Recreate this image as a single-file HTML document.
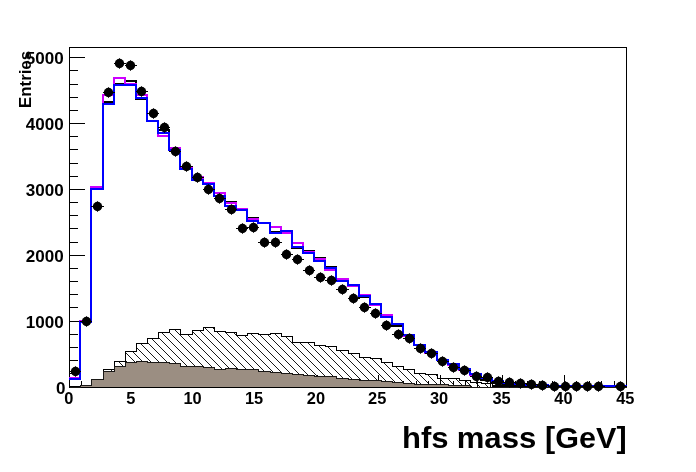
<!DOCTYPE html>
<html><head><meta charset="utf-8"><title>hfs mass</title>
<style>
html,body{margin:0;padding:0;background:#fff;}
body{width:696px;height:472px;overflow:hidden;}
svg{display:block;will-change:transform;}
text{font-family:"Liberation Sans",sans-serif;font-weight:bold;fill:#000;}
.ax{stroke:#000;stroke-width:1;fill:none;}
</style></head><body>
<svg width="696" height="472" viewBox="0 0 696 472">
<defs>
<pattern id="hatch" width="8" height="8" patternUnits="userSpaceOnUse" x="5" y="0">
<path d="M-1 -1L9 9M-1 7L1 9M7 -1L9 1" stroke="#000" stroke-width="0.9" fill="none" shape-rendering="crispEdges"/>
</pattern>
</defs>
<rect width="696" height="472" fill="#fff"/>
<g shape-rendering="crispEdges">

<path class="ax" d="M69.5 47.5H626.5V387.5H69.5Z"/>
<path class="ax" d="M70 386.5h15M70 373.5h8M70 360.5h8M70 347.5h8M70 334.5h8M70 321.5h15M70 307.5h8M70 294.5h8M70 281.5h8M70 268.5h8M70 255.5h15M70 242.5h8M70 228.5h8M70 215.5h8M70 202.5h8M70 189.5h15M70 176.5h8M70 163.5h8M70 149.5h8M70 136.5h8M70 123.5h15M70 110.5h8M70 97.5h8M70 84.5h8M70 70.5h8M70 57.5h15"/>
<path class="ax" d="M69.5 387v-12M81.5 387v-6M94.5 387v-6M106.5 387v-6M119.5 387v-6M131.5 387v-12M143.5 387v-6M156.5 387v-6M168.5 387v-6M180.5 387v-6M193.5 387v-12M205.5 387v-6M218.5 387v-6M230.5 387v-6M242.5 387v-6M255.5 387v-12M267.5 387v-6M279.5 387v-6M292.5 387v-6M304.5 387v-6M317.5 387v-12M329.5 387v-6M341.5 387v-6M354.5 387v-6M366.5 387v-6M378.5 387v-12M391.5 387v-6M403.5 387v-6M416.5 387v-6M428.5 387v-6M440.5 387v-12M453.5 387v-6M465.5 387v-6M477.5 387v-6M490.5 387v-6M502.5 387v-12M515.5 387v-6M527.5 387v-6M539.5 387v-6M552.5 387v-6M564.5 387v-12M576.5 387v-6M589.5 387v-6M601.5 387v-6M614.5 387v-6M626.5 387v-12"/>
<path d="M69.5 387.5V387.5H80.5V385.5H91.5V379.5H103.5V369.5H114.5V361.5H125.5V351.5H136.5V343.5H147.5V338.5H158.5V332.5H169.5V329.5H180.5V334.5H192.5V330.5H203.5V327.5H214.5V331.5H225.5V332.5H236.5V335.5H247.5V333.5H258.5V334.5H270.5V333.5H281.5V336.5H292.5V342.5H303.5V342.5H314.5V345.5H325.5V346.5H336.5V350.5H348.5V353.5H359.5V357.5H370.5V358.5H381.5V362.5H392.5V366.5H403.5V369.5H414.5V373.5H425.5V374.5H437.5V378.5H448.5V378.5H459.5V380.5H470.5V382.5H481.5V383.5H492.5V385.5H503.5V385.5H515.5V386.5H526.5V386.5H537.5V386.5H548.5V386.5H559.5V387.5H570.5V387.5H581.5V387.5H592.5V387.5H604.5V387.5H615.5V387.5H626.5V387.5Z" fill="url(#hatch)" stroke="#000" stroke-width="1"/>
<path d="M69.5 387V387H80.5V385.5H91.5V379.5H103.5V371.5H114.5V366.5H125.5V362.5H136.5V361.5H147.5V362.5H158.5V362.5H169.5V363.5H180.5V366.5H192.5V366.5H203.5V367.5H214.5V369.5H225.5V368.5H236.5V369.5H247.5V369.5H258.5V371.5H270.5V372.5H281.5V373.5H292.5V374.5H303.5V375.5H314.5V376.5H325.5V376.5H336.5V378.5H348.5V379.5H359.5V380.5H370.5V380.5H381.5V381.5H392.5V382.5H403.5V383.5H414.5V384.5H425.5V384.5H437.5V384.5H448.5V385.5H459.5V385.5H470.5V387H481.5V387H492.5V387H503.5V387H515.5V387H526.5V387H537.5V387H548.5V387H559.5V387H570.5V387H581.5V387H592.5V387H604.5V387H615.5V387H626.5V387Z" fill="#9b8e82" stroke="none"/>
<path d="M69.5 387.5V387.5H80.5V385.5H91.5V379.5H103.5V371.5H114.5V366.5H125.5V362.5H136.5V361.5H147.5V362.5H158.5V362.5H169.5V363.5H180.5V366.5H192.5V366.5H203.5V367.5H214.5V369.5H225.5V368.5H236.5V369.5H247.5V369.5H258.5V371.5H270.5V372.5H281.5V373.5H292.5V374.5H303.5V375.5H314.5V376.5H325.5V376.5H336.5V378.5H348.5V379.5H359.5V380.5H370.5V380.5H381.5V381.5H392.5V382.5H403.5V383.5H414.5V384.5H425.5V384.5H437.5V384.5H448.5V385.5H459.5V385.5H470.5V387.5H481.5V387.5H492.5V387.5H503.5V387.5H515.5V387.5H526.5V387.5H537.5V387.5H548.5V387.5H559.5V387.5H570.5V387.5H581.5V387.5H592.5V387.5H604.5V387.5H615.5V387.5H626.5V387.5" fill="none" stroke="#1a1816" stroke-width="1"/>
<path class="ax" d="M492 386.5H566"/>
<path d="M70 379H80V322H91V189H103V102H114V84H125V81H136V99H147V121H158V130H169V150H180V169H192V180H203V184H214V196H225V202H236V210H247V218H258V223H270V232H281V231H292V248H303V251H314V258H325V267H336V281H348V285H359V297H370V304H381V317H392V326H403V335H414V345H425V352H437V360H448V364H459V369H470V374H481V380H492V383H503V385H515V386H526V386H537V386H548V386H559V386H570V386H581V386H592V386H604V386H615V386H626V386" fill="none" stroke="#000" stroke-width="2" stroke-linejoin="miter" stroke-linecap="square"/>
<path d="M70 378H80V321H91V187H103V95H114V78H125V84H136V95H147V121H158V136H169V148H180V168H192V177H203V183H214V193H225V203H236V209H247V219H258V223H270V227H281V233H292V243H303V252H314V259H325V270H336V279H348V286H359V295H370V305H381V315H392V324H403V336H414V345H425V353H437V360H448V365H459V370H470V375H481V378H492V381H503V383H515V384H526V385H537V385H548V386H559V386H570V386H581V386H592V386H604V386H615V386H626V386" fill="none" stroke="#cc00ff" stroke-width="2" stroke-linejoin="miter" stroke-linecap="square"/>
<path d="M70 379H80V322H91V189H103V104H114V85H125V85H136V98H147V121H158V133H169V150H180V169H192V180H203V184H214V196H225V206H236V210H247V221H258V223H270V233H281V231H292V247H303V253H314V261H325V268H336V281H348V285H359V296H370V304H381V317H392V324H403V335H414V345H425V352H437V360H448V364H459V369H470V374H481V378H492V381H503V383H515V384H526V385H537V385H548V386H559V386H570V386H581V386H592V386H604V386H615V386H626V386" fill="none" stroke="#0000ff" stroke-width="2" stroke-linejoin="miter" stroke-linecap="square"/>
<path class="ax" d="M69 371.5H81M80 321.5H92M91 206.5H104M103 92.5H115M114 63.5H126M125 65.5H137M136 91.5H148M147 113.5H159M158 127.5H170M169 151.5H181M180 166.5H193M192 177.5H204M203 189.5H215M214 198.5H226M225 209.5H237M236 228.5H248M247 227.5H259M258 242.5H271M270 242.5H282M281 254.5H293M292 259.5H304M303 270.5H315M314 277.5H326M325 280.5H337M336 289.5H349M348 298.5H360M359 307.5H371M370 313.5H382M381 325.5H393M392 334.5H404M403 338.5H415M414 348.5H426M425 353.5H438M437 361.5H449M448 367.5H460M459 370.5H471M470 376.5H482M481 377.5H493M492 381.5H504M503 382.5H516M515 383.5H527M526 384.5H538M537 385.5H549M548 386.5H560M559 386.5H571M570 386.5H582M581 386.5H593M592 386.5H605M615 386.5H627"/>
</g>
<g fill="#000"><circle cx="75.5" cy="371.5" r="4.7"/><rect x="75" y="366.3" width="1" height="10.4"/><circle cx="86.5" cy="321.5" r="4.7"/><rect x="86" y="316.3" width="1" height="10.4"/><circle cx="97.5" cy="206.5" r="4.7"/><rect x="97" y="201.3" width="1" height="10.4"/><circle cx="108.5" cy="92.5" r="4.7"/><rect x="108" y="87.3" width="1" height="10.4"/><circle cx="119.5" cy="63.5" r="4.7"/><rect x="119" y="58.3" width="1" height="10.4"/><circle cx="130.5" cy="65.5" r="4.7"/><rect x="130" y="60.3" width="1" height="10.4"/><circle cx="141.5" cy="91.5" r="4.7"/><rect x="141" y="86.3" width="1" height="10.4"/><circle cx="153.5" cy="113.5" r="4.7"/><rect x="153" y="108.3" width="1" height="10.4"/><circle cx="164.5" cy="127.5" r="4.7"/><rect x="164" y="122.3" width="1" height="10.4"/><circle cx="175.5" cy="151.5" r="4.7"/><rect x="175" y="146.3" width="1" height="10.4"/><circle cx="186.5" cy="166.5" r="4.7"/><rect x="186" y="161.3" width="1" height="10.4"/><circle cx="197.5" cy="177.5" r="4.7"/><rect x="197" y="172.3" width="1" height="10.4"/><circle cx="208.5" cy="189.5" r="4.7"/><rect x="208" y="184.3" width="1" height="10.4"/><circle cx="219.5" cy="198.5" r="4.7"/><rect x="219" y="193.3" width="1" height="10.4"/><circle cx="231.5" cy="209.5" r="4.7"/><rect x="231" y="204.3" width="1" height="10.4"/><circle cx="242.5" cy="228.5" r="4.7"/><rect x="242" y="223.3" width="1" height="10.4"/><circle cx="253.5" cy="227.5" r="4.7"/><rect x="253" y="222.3" width="1" height="10.4"/><circle cx="264.5" cy="242.5" r="4.7"/><rect x="264" y="237.3" width="1" height="10.4"/><circle cx="275.5" cy="242.5" r="4.7"/><rect x="275" y="237.3" width="1" height="10.4"/><circle cx="286.5" cy="254.5" r="4.7"/><rect x="286" y="249.3" width="1" height="10.4"/><circle cx="297.5" cy="259.5" r="4.7"/><rect x="297" y="254.3" width="1" height="10.4"/><circle cx="309.5" cy="270.5" r="4.7"/><rect x="309" y="265.3" width="1" height="10.4"/><circle cx="320.5" cy="277.5" r="4.7"/><rect x="320" y="272.3" width="1" height="10.4"/><circle cx="331.5" cy="280.5" r="4.7"/><rect x="331" y="275.3" width="1" height="10.4"/><circle cx="342.5" cy="289.5" r="4.7"/><rect x="342" y="284.3" width="1" height="10.4"/><circle cx="353.5" cy="298.5" r="4.7"/><rect x="353" y="293.3" width="1" height="10.4"/><circle cx="364.5" cy="307.5" r="4.7"/><rect x="364" y="302.3" width="1" height="10.4"/><circle cx="375.5" cy="313.5" r="4.7"/><rect x="375" y="308.3" width="1" height="10.4"/><circle cx="386.5" cy="325.5" r="4.7"/><rect x="386" y="320.3" width="1" height="10.4"/><circle cx="398.5" cy="334.5" r="4.7"/><rect x="398" y="329.3" width="1" height="10.4"/><circle cx="409.5" cy="338.5" r="4.7"/><rect x="409" y="333.3" width="1" height="10.4"/><circle cx="420.5" cy="348.5" r="4.7"/><rect x="420" y="343.3" width="1" height="10.4"/><circle cx="431.5" cy="353.5" r="4.7"/><rect x="431" y="348.3" width="1" height="10.4"/><circle cx="442.5" cy="361.5" r="4.7"/><rect x="442" y="356.3" width="1" height="10.4"/><circle cx="453.5" cy="367.5" r="4.7"/><rect x="453" y="362.3" width="1" height="10.4"/><circle cx="464.5" cy="370.5" r="4.7"/><rect x="464" y="365.3" width="1" height="10.4"/><circle cx="476.5" cy="376.5" r="4.7"/><rect x="476" y="371.3" width="1" height="10.4"/><circle cx="487.5" cy="377.5" r="4.7"/><rect x="487" y="372.3" width="1" height="10.4"/><circle cx="498.5" cy="381.5" r="4.7"/><rect x="498" y="376.3" width="1" height="10.4"/><circle cx="509.5" cy="382.5" r="4.7"/><rect x="509" y="377.3" width="1" height="10.4"/><circle cx="520.5" cy="383.5" r="4.7"/><rect x="520" y="378.3" width="1" height="10.4"/><circle cx="531.5" cy="384.5" r="4.7"/><rect x="531" y="379.3" width="1" height="10.4"/><circle cx="542.5" cy="385.5" r="4.7"/><rect x="542" y="380.3" width="1" height="10.4"/><circle cx="554.5" cy="386.5" r="4.7"/><rect x="554" y="381.3" width="1" height="10.4"/><circle cx="565.5" cy="386.5" r="4.7"/><rect x="565" y="381.3" width="1" height="10.4"/><circle cx="576.5" cy="386.5" r="4.7"/><rect x="576" y="381.3" width="1" height="10.4"/><circle cx="587.5" cy="386.5" r="4.7"/><rect x="587" y="381.3" width="1" height="10.4"/><circle cx="598.5" cy="386.5" r="4.7"/><rect x="598" y="381.3" width="1" height="10.4"/><circle cx="620.5" cy="386.5" r="4.7"/><rect x="620" y="381.3" width="1" height="10.4"/></g>
<g font-size="16.5" text-anchor="end">
<text transform="translate(65.4 394.1) scale(1.035 1)">0</text>
<text transform="translate(63.7 327.5) scale(1.035 1)">1000</text>
<text transform="translate(63.7 261.6) scale(1.035 1)">2000</text>
<text transform="translate(63.7 195.7) scale(1.035 1)">3000</text>
<text transform="translate(63.7 129.8) scale(1.035 1)">4000</text>
<text transform="translate(63.7 63.8) scale(1.035 1)">5000</text>
</g>
<g font-size="16" text-anchor="middle">
<text transform="translate(68.8 404.1) scale(1.025 1)">0</text>
<text transform="translate(130.7 404.1) scale(1.025 1)">5</text>
<text transform="translate(192.5 404.1) scale(1.025 1)">10</text>
<text transform="translate(254.0 404.1) scale(1.025 1)">15</text>
<text transform="translate(315.9 404.1) scale(1.025 1)">20</text>
<text transform="translate(377.2 404.1) scale(1.025 1)">25</text>
<text transform="translate(439.1 404.1) scale(1.025 1)">30</text>
<text transform="translate(501.6 404.1) scale(1.025 1)">35</text>
<text transform="translate(563.4 404.1) scale(1.025 1)">40</text>
<text transform="translate(625.3 404.1) scale(1.025 1)">45</text>
</g>
<g font-size="30"><text transform="translate(402 447.7) scale(1.034 1)">hfs</text><text transform="translate(456.7 447.7) scale(1.037 1)">mass</text><text transform="translate(545.1 447.7) scale(1.0184 1)">[GeV]</text></g>
<text font-size="16.8" text-anchor="end" transform="translate(30.8 51) rotate(-90)">Entries</text>
</svg></body></html>
